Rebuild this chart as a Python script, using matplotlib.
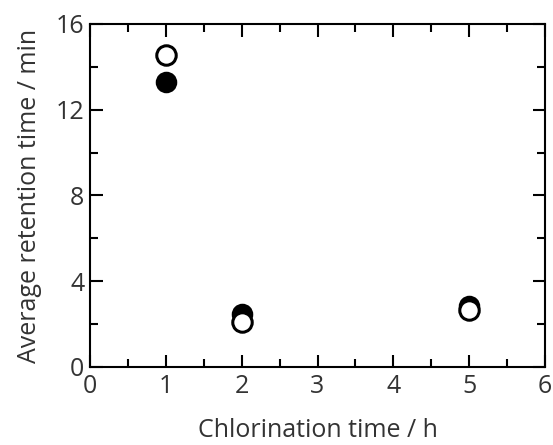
import matplotlib
matplotlib.use("Agg")
import matplotlib.pyplot as plt
from matplotlib.ticker import MultipleLocator

plt.rcParams['font.family'] = ['Open Sans', 'DejaVu Sans']

x_time = [1, 2, 5]
filled_vals = [13.3, 2.45, 2.85]
open_vals = [14.55, 2.1, 2.65]

fig = plt.figure(figsize=(5.53, 4.45), dpi=100)
ax = fig.add_axes([90/553, 1-367/445, 455/553, 343/445])

ax.plot(x_time, filled_vals, 'o', ms=14, mfc='black', mec='black', mew=1.5, ls='none', zorder=3)
ax.plot(x_time, open_vals, 'o', ms=14, mfc='white', mec='black', mew=2.2, ls='none', zorder=4)

ax.set_xlim(0, 6)
ax.set_ylim(0, 16)
ax.xaxis.set_major_locator(MultipleLocator(1))
ax.xaxis.set_minor_locator(MultipleLocator(0.5))
ax.yaxis.set_major_locator(MultipleLocator(4))
ax.yaxis.set_minor_locator(MultipleLocator(2))
ax.tick_params(which='both', direction='in', top=True, right=True, width=1.5, labelsize=18, colors='black')
ax.tick_params(axis='x', which='major', length=9, pad=5)
ax.tick_params(axis='y', which='major', length=9, pad=4)
ax.tick_params(which='minor', length=6)
ax.tick_params(labelcolor='#333333')
for s in ax.spines.values():
    s.set_linewidth(1.5)

ax.set_xlabel('Chlorination time / h', fontsize=18, color='#333333', labelpad=14)
ax.set_ylabel('Average retention time / min', fontsize=18, color='#333333', labelpad=10)

fig.savefig('out.png', dpi=100)
